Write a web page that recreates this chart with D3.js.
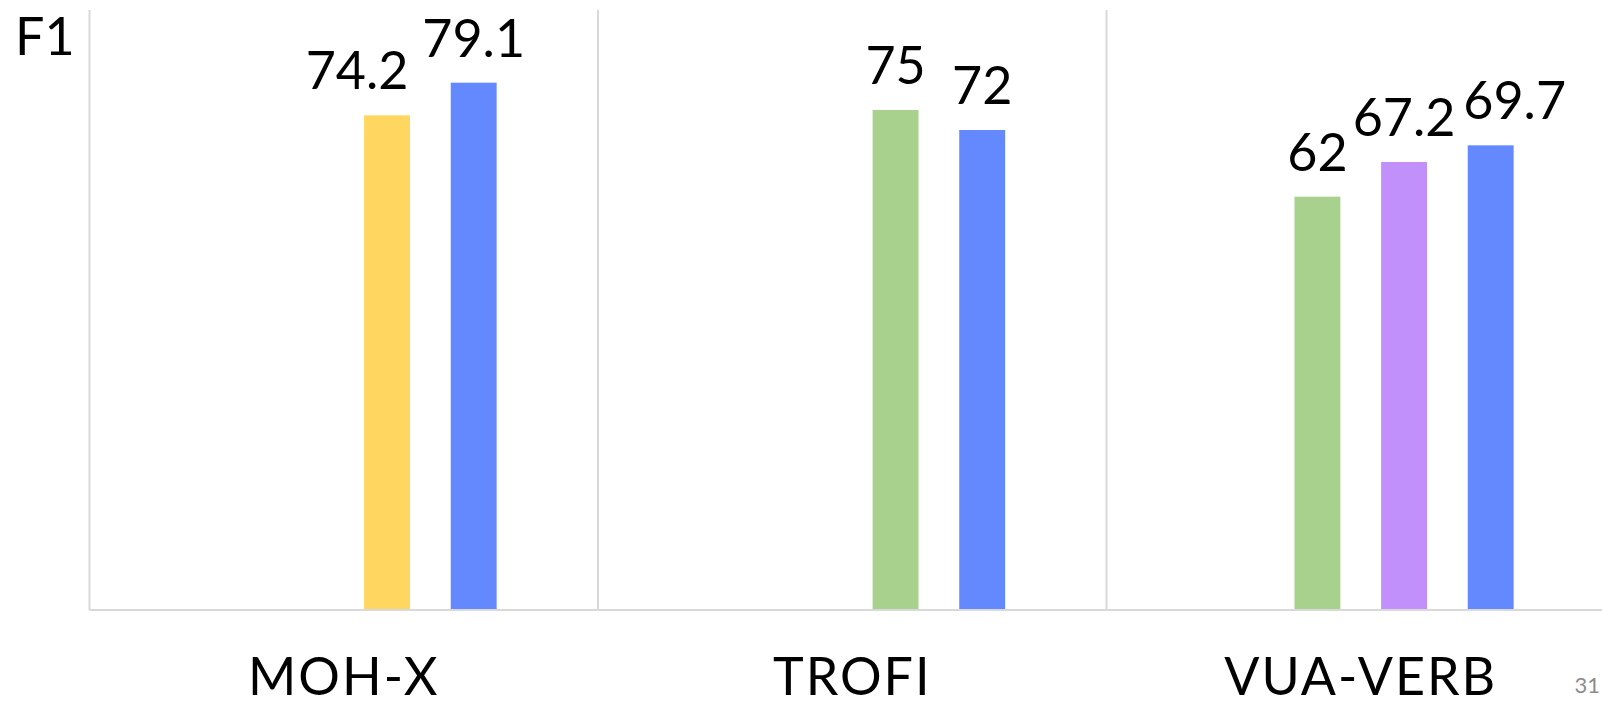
<!DOCTYPE html>
<html><head><meta charset="utf-8">
<script src="https://cdn.jsdelivr.net/npm/d3@7"></script>
<style>html,body{margin:0;padding:0;background:#fff;overflow:hidden}</style>
</head><body><svg id="chart" width="1602" height="706"></svg>
<script>
const categories = ["MOH-X", "TROFI", "VUA-VERB"];
const slots = ["s1", "s2", "s3", "s4"];
const slot1Values = [null, null, null];
const slot2Values = [null, null, 62];
const slot3Values = [74.2, 75, 67.2];
const slot4Values = [79.1, 72, 69.7];
const slot1Colors = [null, null, null];
const slot2Colors = [null, null, "#A9D18E"];
const slot3Colors = ["#FFD760", "#A9D18E", "#C190FB"];
const slot4Colors = ["#6489FF", "#6489FF", "#6489FF"];
const yAxisLabel = "F1";
const pageNumber = "31";

const FONT = "Lato, 'Open Sans', sans-serif";
const svg = d3.select("#chart");
const W = 1602, H = 706;
const plotLeft = 89.5, bandW = 508.5, plotTop = 10, plotBottom = 610;

const x0 = d3.scaleBand().domain(categories).range([plotLeft, plotLeft + bandW * categories.length]);
const x1 = d3.scaleBand().domain(slots).range([0, x0.bandwidth()]).paddingInner(0.47).paddingOuter(1.17);
const y = d3.scaleLinear().domain([0, 90]).range([plotBottom, plotTop]);

const slotValues = [slot1Values, slot2Values, slot3Values, slot4Values];
const slotColors = [slot1Colors, slot2Colors, slot3Colors, slot4Colors];
const bars = [];
slots.forEach((s, si) => categories.forEach((c, ci) => {
  const v = slotValues[si][ci];
  if (v != null) bars.push({cat: c, slot: s, value: v, color: slotColors[si][ci]});
}));

// vertical separators at category boundaries
svg.append("g").selectAll("line").data(categories).join("line")
  .attr("x1", d => x0(d)).attr("x2", d => x0(d))
  .attr("y1", plotTop).attr("y2", plotBottom)
  .attr("stroke", "#d9d9d9").attr("stroke-width", 2);

// bars
svg.append("g").selectAll("rect").data(bars).join("rect")
  .attr("x", d => x0(d.cat) + x1(d.slot))
  .attr("width", x1.bandwidth())
  .attr("y", d => y(d.value))
  .attr("height", d => y(0) - y(d.value))
  .attr("fill", d => d.color);

// x axis (baseline + category labels)
const xAxis = svg.append("g").attr("transform", `translate(0,${plotBottom})`)
  .call(d3.axisBottom(x0).tickSize(0).tickSizeOuter(0).tickPadding(85));
xAxis.select(".domain").attr("stroke", "#d9d9d9").attr("stroke-width", 2)
  .attr("d", `M${plotLeft},0H${W + 20}`);
xAxis.selectAll(".tick text")
  .attr("font-family", FONT).attr("font-size", 52).attr("fill", "#000")
  .attr("letter-spacing", "2px").attr("dy", 0);

// value labels
const nudge = {"MOH-X|s3": -30, "VUA-VERB|s4": 24};
svg.append("g").selectAll("text").data(bars).join("text")
  .attr("x", d => x0(d.cat) + x1(d.slot) + x1.bandwidth() / 2 + (nudge[d.cat + "|" + d.slot] || 0))
  .attr("y", d => y(d.value) - 26)
  .attr("text-anchor", "middle")
  .attr("font-family", FONT).attr("font-size", 52).attr("fill", "#000")
  .text(d => d.value);

// y label
svg.append("text").attr("x", 15).attr("y", 55)
  .attr("font-family", FONT).attr("font-size", 52).attr("fill", "#000")
  .text(yAxisLabel);

// page number
svg.append("text").attr("x", 1600).attr("y", 693).attr("text-anchor", "end")
  .attr("font-family", FONT).attr("font-size", 22).attr("fill", "#8c8c8c")
  .text(pageNumber);
</script>
</body></html>
